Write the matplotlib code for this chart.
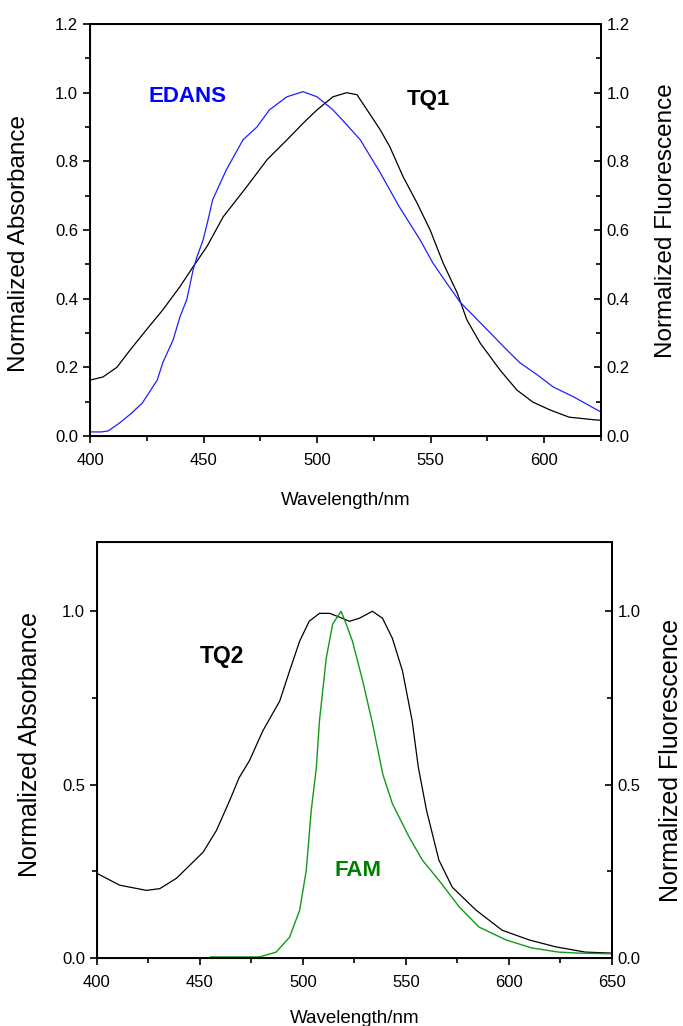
import matplotlib.pyplot as plt
from matplotlib.ticker import MultipleLocator, FormatStrFormatter

plt.rcParams['font.family'] = ['Liberation Sans', 'DejaVu Sans']

# top panel: EDANS fluorescence + TQ1 absorbance
edans_x = [400, 405, 408, 413, 418, 423, 429.6, 432, 436.6, 439.6, 442.6, 445.4, 447, 449.8, 452, 454, 460,
           467.4, 473.5, 479, 486.7, 493.8, 500, 507, 513, 519, 527.8, 536, 545.4, 551, 557, 563, 575, 583.7,
           589.4, 597, 604, 613, 625]
edans_y = [0.012, 0.012, 0.015, 0.038, 0.065, 0.096, 0.163, 0.213, 0.28, 0.347, 0.397, 0.484, 0.52, 0.571, 0.63,
           0.688, 0.775, 0.863, 0.9, 0.95, 0.988, 1.003, 0.988, 0.95, 0.907, 0.863, 0.767, 0.67, 0.571, 0.504,
           0.446, 0.39, 0.309, 0.25, 0.213, 0.178, 0.143, 0.114, 0.07]
tq1_x = [400, 405.7, 411.8, 417.6, 424.9, 432, 439.6, 445.4, 451.5, 458.6, 469, 478, 486.8, 494, 500, 507, 513,
         517.6, 523, 527.8, 532, 537.9, 544, 549.8, 555.5, 561.7, 566, 571.8, 580.6, 588, 595, 602.6, 611, 622.6, 625]
tq1_y = [0.163, 0.172, 0.2, 0.25, 0.31, 0.367, 0.435, 0.493, 0.552, 0.638, 0.726, 0.805, 0.863, 0.912, 0.95,
         0.988, 1.0, 0.994, 0.94, 0.892, 0.843, 0.755, 0.679, 0.6, 0.504, 0.417, 0.338, 0.271, 0.192, 0.134,
         0.099, 0.076, 0.055, 0.047, 0.046]

# bottom panel: TQ2 absorbance + FAM fluorescence
tq2_x = [400, 411, 424, 430.5, 438.6, 451.5, 458, 464.4, 469, 474, 480.5, 488.7, 493.5, 498.4, 503, 508, 513,
         519, 522.6, 527.4, 533.7, 538.6, 543.4, 548.3, 553, 556, 560, 566, 572.5, 584, 596.7, 609.8, 622.8, 637, 650]
tq2_y = [0.244, 0.21, 0.195, 0.2, 0.23, 0.305, 0.368, 0.454, 0.52, 0.569, 0.655, 0.741, 0.828, 0.914, 0.971,
         0.994, 0.994, 0.98, 0.971, 0.98, 1.0, 0.98, 0.922, 0.828, 0.684, 0.55, 0.425, 0.282, 0.204, 0.138, 0.08,
         0.052, 0.032, 0.017, 0.014]
fam_x = [455, 479, 487, 493.5, 498.4, 501.6, 504, 506.5, 508, 511.3, 514.4, 518.5, 521, 524, 529, 533.8, 538.7,
         543.4, 551.6, 558, 566, 575.9, 585.5, 598.6, 611, 624, 634, 650]
fam_y = [0.003, 0.003, 0.017, 0.06, 0.138, 0.253, 0.425, 0.55, 0.684, 0.865, 0.963, 1.0, 0.963, 0.914, 0.799,
         0.675, 0.531, 0.445, 0.348, 0.282, 0.224, 0.147, 0.089, 0.052, 0.029, 0.017, 0.014, 0.012]

fig = plt.figure(figsize=(6.83, 10.26), dpi=100)
ax1 = fig.add_axes([0.1318, 0.575, 0.748, 0.4016])
ax2 = fig.add_axes([0.142, 0.0663, 0.754, 0.4055])


def style(ax, xlim, ymajor, yminor, lblsize, lpos, rpos, xly):
	ax.set_xlim(*xlim)
	ax.set_ylim(0, 1.2)
	for s in ax.spines.values():
		s.set_linewidth(1.4)
	ax.xaxis.set_major_locator(MultipleLocator(50))
	ax.xaxis.set_minor_locator(MultipleLocator(25))
	ax.yaxis.set_major_locator(MultipleLocator(ymajor))
	ax.yaxis.set_minor_locator(MultipleLocator(yminor))
	ax.yaxis.set_major_formatter(FormatStrFormatter("%.1f"))
	ax.tick_params(which="both", direction="out", width=1.2, labelsize=12, top=False, right=False)
	ax.tick_params(which="major", length=5)
	ax.tick_params(which="minor", length=3.5)
	ax.tick_params(axis="x", pad=7)
	ax.set_xlabel("Wavelength/nm", fontsize=13.5)
	ax.xaxis.set_label_coords(0.5, xly)
	ax.set_ylabel("Normalized Absorbance", fontsize=lblsize)
	ax.yaxis.set_label_coords(*lpos)

	rt = ax.twinx()
	rt.set_ylim(0, 1.2)
	rt.yaxis.set_major_locator(MultipleLocator(ymajor))
	rt.yaxis.set_minor_locator(MultipleLocator(yminor))
	rt.yaxis.set_major_formatter(FormatStrFormatter("%.1f"))
	rt.tick_params(which="both", direction="in", width=1.2, labelsize=12, pad=4)
	rt.tick_params(which="major", length=5)
	rt.tick_params(which="minor", length=3.5)
	rt.set_ylabel("Normalized Fluorescence", fontsize=lblsize, rotation=90)
	rt.yaxis.set_label_coords(*rpos)
	rt.spines["right"].set_linewidth(1.4)
	return rt


style(ax1, (400, 625), 0.2, 0.1, 17.5, (-0.117, 0.467), (1.106, 0.524), -0.136)
rt2 = style(ax2, (400, 650), 0.5, 0.25, 18, (-0.106, 0.512), (1.092, 0.474), -0.125)
for a in (ax2, rt2):
	a.set_yticks([0, 0.5, 1.0])
	a.set_yticks([0.25, 0.75], minor=True)
	a.set_ylim(0, 1.2)

ax1.plot(tq1_x, tq1_y, color="black", lw=0.9)
ax1.plot(edans_x, edans_y, color="#1f1fff", lw=0.9)
ax1.text(443, 0.99, "EDANS", color="#0000ff", fontsize=16, fontweight="bold", ha="center", va="center")
ax1.text(549, 0.98, "TQ1", color="black", fontsize=16, fontweight="bold", ha="center", va="center")

ax2.plot(tq2_x, tq2_y, color="black", lw=0.9)
ax2.plot(fam_x, fam_y, color="#11991a", lw=1.0)
ax2.text(460.5, 0.87, "TQ2", color="black", fontsize=16.5, fontweight="bold", ha="center", va="center")
ax2.text(526.5, 0.253, "FAM", color="#008000", fontsize=16, fontweight="bold", ha="center", va="center")

fig.savefig("out.png", dpi=100)
